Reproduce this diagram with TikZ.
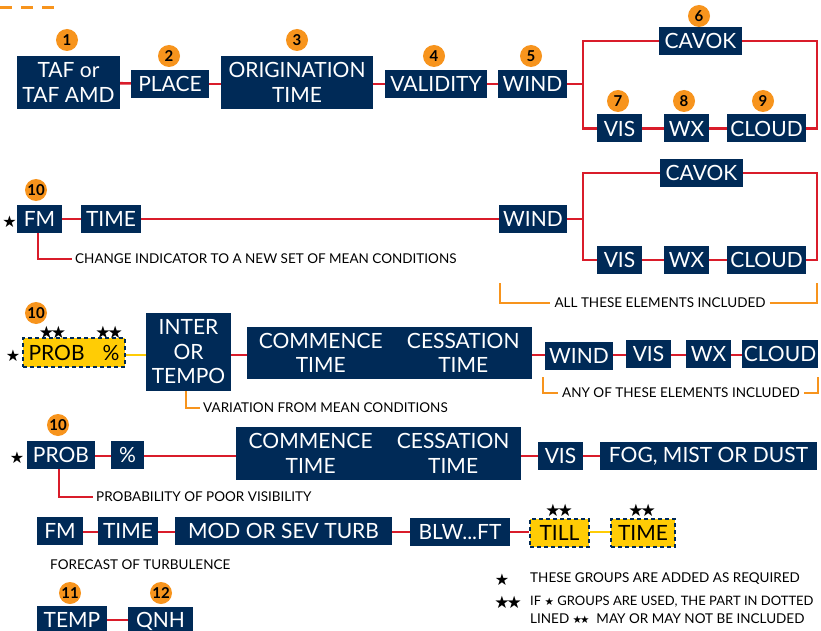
\documentclass[tikz,border=0pt]{standalone}
\usepackage{fontspec}
\setmainfont{Lato}
\newfontfamily\symfont{DejaVu Sans}
\definecolor{navy}{HTML}{002A57}
\definecolor{redc}{HTML}{D91C2A}
\definecolor{orng}{HTML}{F7941D}
\definecolor{yel}{HTML}{FFCC05}
\newcommand{\bigstr}{{\symfont\fontsize{16}{16}\selectfont ★}}
\newcommand{\twostr}{{\symfont\fontsize{17}{17}\selectfont ★\hspace{-3pt}★}}
\newcommand{\tinystr}{{\symfont\fontsize{10.5}{10.5}\selectfont ★}}
\newcommand{\tinytwo}{{\symfont\fontsize{10.5}{10.5}\selectfont ★\hspace{-2pt}★}}
\begin{document}
\begin{tikzpicture}[x=1pt,y=-1pt,
 bx/.style={fill=navy,text=white,inner sep=0pt,font=\fontsize{21}{24.5}\selectfont,align=center},
 ybx/.style={fill=yel,draw=navy,line width=2.5pt,dash pattern=on 4pt off 3pt,text=black,inner sep=0pt,font=\fontsize{21}{24}\selectfont},
 num/.style={circle,fill=orng,inner sep=0pt,minimum size=22pt,font=\fontsize{15}{15}\selectfont\bfseries},
 rl/.style={draw=redc,line width=2.6pt},
 ol/.style={draw=orng,line width=2.5pt},
 yl/.style={draw=yel,line width=2.5pt},
 sm/.style={font=\fontsize{13.5}{15}\selectfont,inner xsep=3pt,inner ysep=0pt},
 st/.style={inner sep=0pt,anchor=center}
]
\useasboundingbox (0,0) rectangle (821,631);
\fill[white] (0,0) rectangle (821,631);
\coordinate (d0) at (0,8);
\coordinate (d1) at (57,8);
\draw[orng,line width=3pt,dash pattern=on 12pt off 9pt] (d0) -- (d1);

% ---------- row 1
\node[bx,minimum width=103pt,minimum height=53pt] (taf) at (68.5,82.5) {TAF or\\TAF AMD};
\node[bx,minimum width=78pt,minimum height=28pt] (place) at (170,84) {PLACE};
\node[bx,minimum width=152pt,minimum height=53pt] (orig) at (297,82.5) {ORIGINATION\\TIME};
\node[bx,minimum width=102pt,minimum height=28pt] (valid) at (436,84) {VALIDITY};
\node[bx,minimum width=69pt,minimum height=28pt] (wind1) at (532.5,84) {WIND};
\node[bx,minimum width=83pt,minimum height=28pt] (cavok1) at (700.5,41) {CAVOK};
\node[bx,minimum width=45pt,minimum height=28pt] (vis1) at (619.5,128.5) {VIS};
\node[bx,minimum width=45pt,minimum height=28pt] (wx1) at (686.5,128.5) {WX};
\node[bx,minimum width=79pt,minimum height=28pt] (cloud1) at (766.5,128.5) {CLOUD};
\coordinate (b1) at (583,84);
\coordinate (e1) at (817,84);
\draw[rl] (taf) -- (place);
\draw[rl] (place) -- (orig.west |- place);
\draw[rl] (orig.east |- valid) -- (valid);
\draw[rl] (valid) -- (wind1);
\draw[rl] (wind1) -- (b1);
\draw[rl] (cavok1.west) -| (b1) |- (vis1.west);
\draw[rl] (cavok1.east) -| (e1) |- (cloud1.east);
\draw[rl] (vis1) -- (wx1);
\draw[rl] (wx1) -- (cloud1);
\node[num] (n1) at (67,40) {1};
\node[num] (n2) at (169,56) {2};
\node[num] (n3) at (297,40) {3};
\node[num] (n4) at (434,56) {4};
\node[num] (n5) at (531,56) {5};
\node[num] (n6) at (699,16) {6};
\node[num] (n7) at (618,101) {7};
\node[num] (n8) at (684,101) {8};
\node[num] (n9) at (763,101) {9};

% ---------- row 2
\node[bx,minimum width=45pt,minimum height=28pt] (fm2) at (39.5,219) {FM};
\node[bx,minimum width=60pt,minimum height=28pt] (time2) at (111,219) {TIME};
\node[bx,minimum width=68pt,minimum height=28pt] (wind2) at (533,219) {WIND};
\node[bx,minimum width=83pt,minimum height=28pt] (cavok2) at (701.5,173) {CAVOK};
\node[bx,minimum width=45pt,minimum height=28pt] (vis2) at (619.5,260) {VIS};
\node[bx,minimum width=45pt,minimum height=28pt] (wx2) at (686.5,260) {WX};
\node[bx,minimum width=79pt,minimum height=28pt] (cloud2) at (766.5,260) {CLOUD};
\node[num] (n10a) at (36,190) {10};
\node[st] (s2) at (9.5,221.5) {\bigstr};
\coordinate (b2) at (583,219);
\coordinate (e2) at (817,219);
\draw[rl] (fm2) -- (time2);
\draw[rl] (time2) -- (wind2);
\draw[rl] (wind2) -- (b2);
\draw[rl] (cavok2.west) -| (b2) |- (vis2.west);
\draw[rl] (cavok2.east) -| (e2) |- (cloud2.east);
\draw[rl] (vis2) -- (wx2);
\draw[rl] (wx2) -- (cloud2);
\node[sm,anchor=west] (t2) at (72,259) {CHANGE INDICATOR TO A NEW SET OF MEAN CONDITIONS};
\coordinate (c2) at (38,259);
\draw[rl] (fm2.south -| c2) |- (t2.west);
\node[sm,inner xsep=4pt] (all2) at (660,303) {ALL THESE ELEMENTS INCLUDED};
\coordinate (k1) at (500,283);
\coordinate (k2) at (500,303);
\coordinate (k3) at (817,303);
\coordinate (k4) at (817,283);
\draw[ol] (k1) -- (k2) -- (all2.west);
\draw[ol] (all2.east) -- (k3) -- (k4);

% ---------- row 3
\coordinate (r3) at (0,355);
\node[num] (n10b) at (36,313) {10};
\node[st] at (52.5,332) (ss3a) {\twostr};
\node[st] at (109,332) (ss3b) {\twostr};
\node[st] (s3) at (13,356) {\bigstr};
\node[ybx,minimum width=102pt,minimum height=29pt] (prob3) at (74,352.5) {PROB\hspace{18pt}\%};
\node[bx,minimum width=85pt,minimum height=78pt] (inter) at (188.5,352) {INTER\\OR\\TEMPO};
\node[bx,minimum width=147.5pt,minimum height=52pt] (com3) at (320.75,353) {COMMENCE\\TIME};
\node[bx,minimum width=137.5pt,minimum height=52pt] (ces3) at (463.25,353) {CESSATION\\TIME};
\node[bx,minimum width=68pt,minimum height=28pt] (wind3) at (579,356) {WIND};
\node[bx,minimum width=45pt,minimum height=28pt] (vis3) at (648.5,354) {VIS};
\node[bx,minimum width=45pt,minimum height=28pt] (wx3) at (708.5,354) {WX};
\node[bx,minimum width=76pt,minimum height=28pt] (cloud3) at (780,354) {CLOUD};
\draw[yl] (prob3.east |- r3) -- (inter.west |- r3);
\draw[rl] (inter.east |- r3) -- (com3.west |- r3);
\draw[rl] (ces3.east |- r3) -- (wind3.west |- r3);
\draw[rl] (wind3.east |- r3) -- (vis3.west |- r3);
\draw[rl] (vis3.east |- r3) -- (wx3.west |- r3);
\draw[rl] (wx3.east |- r3) -- (cloud3.west |- r3);
\node[sm,anchor=west] (t3) at (200,408) {VARIATION FROM MEAN CONDITIONS};
\coordinate (c3) at (186,408);
\draw[ol] (inter.south -| c3) |- (t3.west);
\node[sm,inner xsep=4pt] (any3) at (681,393) {ANY OF THESE ELEMENTS INCLUDED};
\coordinate (m1) at (543,377);
\coordinate (m2) at (543,393);
\coordinate (m3) at (818,393);
\coordinate (m4) at (818,377);
\draw[ol] (m1) -- (m2) -- (any3.west);
\draw[ol] (any3.east) -- (m3) -- (m4);

% ---------- row 4
\node[num] (n10c) at (58,425) {10};
\node[st] (s4) at (17,458) {\bigstr};
\node[bx,minimum width=68pt,minimum height=28pt] (prob4) at (61,455) {PROB};
\node[bx,minimum width=33pt,minimum height=28pt] (pct4) at (127.5,455) {\%};
\node[bx,minimum width=149.3pt,minimum height=53pt] (com4) at (310.65,453.5) {COMMENCE\\TIME};
\node[bx,minimum width=135.7pt,minimum height=53pt] (ces4) at (453.15,453.5) {CESSATION\\TIME};
\node[bx,minimum width=45pt,minimum height=28pt] (vis4) at (560.5,456) {VIS};
\node[bx,minimum width=217pt,minimum height=28pt] (fog4) at (708.5,456) {FOG, MIST OR DUST};
\coordinate (r4) at (0,456);
\draw[rl] (prob4.east |- r4) -- (pct4.west |- r4);
\draw[rl] (pct4.east |- r4) -- (com4.west |- r4);
\draw[rl] (ces4.east |- r4) -- (vis4.west |- r4);
\draw[rl] (vis4.east |- r4) -- (fog4.west |- r4);
\node[sm,anchor=west] (t4) at (93,497) {PROBABILITY OF POOR VISIBILITY};
\coordinate (c4) at (59,497);
\draw[rl] (prob4.south -| c4) |- (t4.west);

% ---------- row 5
\coordinate (r5) at (0,532);
\node[bx,minimum width=46pt,minimum height=28pt] (fm5) at (60,530.5) {FM};
\node[bx,minimum width=60pt,minimum height=28pt] (time5) at (128,530.5) {TIME};
\node[bx,minimum width=217pt,minimum height=28pt] (turb5) at (283.5,530.5) {MOD OR SEV TURB};
\node[bx,minimum width=100pt,minimum height=28pt] (blw5) at (460,532) {BLW...FT};
\node[ybx,minimum width=59pt,minimum height=28pt] (till5) at (559.5,533) {TILL};
\node[ybx,minimum width=64pt,minimum height=28pt] (time5b) at (643,533) {TIME};
\node[st] (ss5a) at (559,510) {\twostr};
\node[st] (ss5b) at (642,510) {\twostr};
\draw[rl] (fm5.east |- r5) -- (time5.west |- r5);
\draw[rl] (time5.east |- r5) -- (turb5.west |- r5);
\draw[rl] (turb5.east |- r5) -- (blw5.west |- r5);
\draw[rl] (blw5.east |- r5) -- (till5.west |- r5);
\draw[yl] (till5.east |- r5) -- (time5b.west |- r5);
\node[sm,anchor=west] (t5) at (47,565) {FORECAST OF TURBULENCE};

% ---------- row 6
\node[num] (n11) at (70,593) {11};
\node[num] (n12) at (161,593) {12};
\node[bx,minimum width=70pt,minimum height=28pt] (temp6) at (72,620) {TEMP};
\node[bx,minimum width=65pt,minimum height=28pt] (qnh6) at (160.5,621) {QNH};
\draw[rl] (temp6) -- (qnh6.west |- temp6);

% ---------- legend
\node[st] (ls1) at (502,580) {\bigstr};
\node[sm,anchor=west] (lt1) at (527,579) {THESE GROUPS ARE ADDED AS REQUIRED};
\node[st] (ls2) at (508,602) {\twostr};
\node[sm,anchor=west,font=\fontsize{13}{15}\selectfont] (lt2) at (527,602) {IF \tinystr\ GROUPS ARE USED, THE PART IN DOTTED};
\node[sm,anchor=west] (lt3) at (527,619) {LINED \tinytwo\ \ MAY OR MAY NOT BE INCLUDED};
\end{tikzpicture}
\end{document}
